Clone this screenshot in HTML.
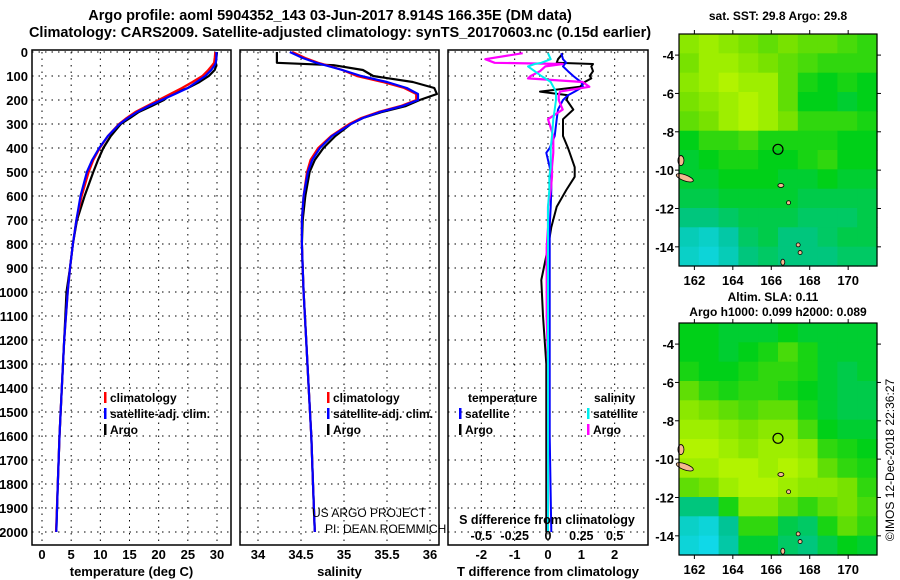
<!DOCTYPE html>
<html><head><meta charset="utf-8"><style>
html,body{margin:0;padding:0;background:#fff;}
svg{display:block;font-family:"Liberation Sans",sans-serif;}
text{font-weight:bold;font-size:13px;fill:#000;}
</style></head><body>
<svg id="fig" width="900" height="580" viewBox="0 0 900 580" xmlns="http://www.w3.org/2000/svg">
<text x="330" y="20" text-anchor="middle" style="font-size:14.5px">Argo profile: aoml 5904352_143 03-Jun-2017 8.914S 166.35E (DM data)</text>
<text x="340" y="37" text-anchor="middle" style="font-size:14.5px">Climatology: CARS2009. Satellite-adjusted climatology: synTS_20170603.nc (0.15d earlier)</text>
<text transform="translate(894,460) rotate(-90)" text-anchor="middle" style="font-weight:normal;font-size:12px">©IMOS 12-Dec-2018 22:36:27</text>
</svg>
<script>
// ---------- DATA ----------
const depthLevels=[0,25,45,55,75,100,125,150,175,200,225,250,275,300,350,400,450,500,600,700,800,900,1000,1200,1400,1600,1800,2000];
const tempClim=[29.7,29.6,29.5,29.2,28.5,27.5,25.8,24,22,20,18,16,14.5,13.2,11.3,9.9,8.8,8.0,6.8,5.9,5.3,4.8,4.4,3.8,3.4,3.0,2.7,2.4];
const tempSat=[29.9,29.9,29.8,29.6,29.0,28.0,26.5,25,22.8,20.5,18.3,16.3,14.7,13.3,11.3,9.8,8.6,7.7,6.6,5.9,5.3,4.8,4.4,3.8,3.4,3.0,2.7,2.45];
const tempArgo=[30.0,29.9,29.8,29.9,29.6,28.6,27,25,22.2,20.9,18.8,16.6,15.1,13.5,11.8,10.5,9.6,8.8,7.3,6.0,5.3,4.8,4.2,3.8,3.4,3.0,2.7,2.45];
const salClim=[34.4,34.55,34.7,34.8,34.98,35.15,35.45,35.7,35.84,35.84,35.66,35.4,35.2,35.06,34.85,34.7,34.61,34.57,34.53,34.51,34.51,34.52,34.53,34.56,34.59,34.62,34.64,34.66];
const salSat=[34.37,34.52,34.68,34.78,34.98,35.2,35.5,35.73,35.86,35.86,35.68,35.42,35.22,35.08,34.86,34.72,34.63,34.58,34.53,34.51,34.51,34.52,34.53,34.56,34.59,34.62,34.64,34.66];
const salArgo=[34.22,34.22,34.22,34.88,35.22,35.34,35.8,36.05,36.08,35.88,35.72,35.44,35.22,35.08,34.9,34.76,34.66,34.6,34.55,34.52,34.51,34.52,34.53,34.56,34.59,34.62,34.64,34.66];
const diffDepths=[5,30,45,50,60,80,100,110,125,145,165,180,200,240,280,350,400,420,480,520,575,645,730,815,950,1100,1300,1600,2000];
const tDiffSat=[0.4,0.45,0.55,0.5,0.45,0.6,0.76,0.85,1.0,1.05,0.8,0.6,0.45,0.3,0.26,0.2,0.05,-0.05,0.05,0.1,0.1,0.08,0.05,0.05,0.05,0.05,0.05,0.05,0.1];
const tDiffArgo=[0.45,0.3,0.26,1.35,1.3,1.35,1.25,1.3,1.1,0.96,-0.24,0.6,0.56,0.76,0.45,0.45,0.6,0.65,0.8,0.8,0.55,0.26,0.1,0.0,-0.2,-0.15,-0.05,-0.05,-0.05];
const sDiffArgo=[-0.19,-0.47,-0.4,0.11,-0.02,-0.06,-0.13,-0.15,0.26,0.31,0.09,0.08,0.08,0.11,0.0,0.04,0.04,0.04,0.03,0.03,0.02,0.0,0.0,-0.01,-0.01,-0.01,0.0,0.0,0.0];
const sDiffSat=[0.0,0.02,-0.05,-0.1,-0.15,-0.1,-0.05,-0.02,0.02,0.04,0.06,0.06,0.06,0.05,0.04,0.03,0.02,0.02,0.02,0.01,0.01,0.0,0.0,0.0,0.0,0.0,0.0,0.0,0.0];
const depthTicks=[0,100,200,300,400,500,600,700,800,900,1000,1100,1200,1300,1400,1500,1600,1700,1800,1900,2000];
const tempTicks=[0,5,10,15,20,25,30];
const salTicks=[34,34.5,35,35.5,36];
const tdTicks=[-2,-1,0,1,2];
const sdTicks=[-0.5,-0.25,0,0.25,0.5];
const lonTicks=[162,164,166,168,170];
const latTicks=[-4,-6,-8,-10,-12,-14];
const sstGrid=[
[0.8,0.85,0.8,0.75,0.7,0.75,0.7,0.7,0.65,0.6],
[0.75,0.85,0.85,0.8,0.75,0.7,0.65,0.6,0.6,0.6],
[0.8,0.85,0.9,0.85,0.85,0.7,0.55,0.5,0.55,0.5],
[0.75,0.8,0.85,0.9,0.85,0.7,0.5,0.5,0.45,0.5],
[0.7,0.75,0.85,0.9,0.85,0.75,0.6,0.6,0.6,0.55],
[0.5,0.6,0.6,0.65,0.55,0.55,0.55,0.55,0.5,0.5],
[0.45,0.5,0.55,0.55,0.5,0.5,0.55,0.6,0.5,0.5],
[0.45,0.45,0.5,0.5,0.5,0.45,0.45,0.5,0.45,0.45],
[0.4,0.4,0.45,0.45,0.45,0.45,0.4,0.4,0.4,0.4],
[0.3,0.3,0.35,0.4,0.4,0.4,0.35,0.35,0.35,0.4],
[0.15,0.1,0.2,0.35,0.4,0.3,0.3,0.35,0.4,0.4],
[0.1,0.05,0.15,0.3,0.35,0.3,0.3,0.3,0.35,0.35]];
const slaGrid=[
[0.5,0.5,0.45,0.45,0.45,0.5,0.45,0.45,0.45,0.45],
[0.5,0.5,0.45,0.5,0.55,0.65,0.55,0.45,0.45,0.45],
[0.55,0.5,0.5,0.55,0.6,0.6,0.55,0.45,0.4,0.45],
[0.7,0.6,0.55,0.6,0.6,0.55,0.5,0.45,0.4,0.4],
[0.8,0.75,0.7,0.65,0.7,0.7,0.55,0.45,0.4,0.4],
[0.85,0.85,0.8,0.75,0.8,0.8,0.65,0.5,0.45,0.45],
[0.9,0.9,0.85,0.8,0.85,0.85,0.8,0.6,0.55,0.5],
[0.85,0.85,0.9,0.9,0.85,0.9,0.85,0.7,0.6,0.55],
[0.7,0.75,0.85,0.9,0.9,0.85,0.8,0.8,0.75,0.6],
[0.3,0.3,0.55,0.8,0.8,0.7,0.6,0.7,0.75,0.65],
[0.1,0.05,0.25,0.6,0.6,0.4,0.35,0.55,0.7,0.6],
[0.05,0.0,0.2,0.45,0.45,0.35,0.3,0.4,0.5,0.45]];
const floatLon=166.35, floatLat=-8.914;

// ---------- HELPERS ----------
const NS="http://www.w3.org/2000/svg";
const svg=document.getElementById('fig');
function mk(tag,attrs,parent){const e=document.createElementNS(NS,tag);for(const k in attrs)e.setAttribute(k,attrs[k]);(parent||svg).appendChild(e);return e;}
function txt(s,x,y,anchor,extra){const t=mk('text',Object.assign({x:x,y:y,'text-anchor':anchor||'start'},extra||{}));t.textContent=s;return t;}
const yTop=52, yPer=0.24, yBot=545;
const yD=d=>yTop+d*yPer;
function lin(d0,d1,r0,r1){return v=>r0+(v-d0)/(d1-d0)*(r1-r0);}

function panel(name,x0,x1,xs,xticks,xfmt,xlabel,showY){
  const g=mk('g',{});
  
  
  depthTicks.forEach(d=>{const l=mk('line',{x1:x0,x2:x1,y1:yD(d),y2:yD(d),stroke:'#000','stroke-width':1,'stroke-dasharray':'1.5,5'},g);
    
    if(showY){const t=txt(String(d),28,yD(d)+5,'end');}});
  xticks.forEach(v=>{const l=mk('line',{x1:xs(v),x2:xs(v),y1:yTop,y2:yBot,stroke:'#000','stroke-width':1,'stroke-dasharray':'1.5,5'},g);
    
    if(xfmt){const t=txt(xfmt(v),xs(v),559,'middle');}});
  const r=mk('rect',{x:x0,y:yTop-2,width:x1-x0,height:yBot-yTop+2,fill:'none',stroke:'#000','stroke-width':1.5},g);
  
  const xl=txt(xlabel,(x0+x1)/2,576,'middle');
  return g;
}
function line(g,name,depths,vals,xs,color,w){
  const pts=vals.map((v,i)=>xs(v).toFixed(1)+','+yD(depths[i]).toFixed(1)).join(' ');
  const p=mk('polyline',{points:pts,fill:'none',stroke:color,'stroke-width':w||2.2,'stroke-linejoin':'round'},g);
  
}
function legend(g,x,y,color,label,name){
  const b=mk('rect',{x:x,y:y-10,width:2.5,height:11,fill:color},g);
  
  const t=txt(label,x+6,y,'start',{style:'font-size:12px'});
  
}

// ---------- TEMPERATURE PANEL ----------
const xT=lin(0,30,42,217);
const gT=panel('temperature-panel',32,231,xT,tempTicks,v=>String(v),'temperature (deg C)',true);
line(gT,'temp-argo-line',depthLevels,tempArgo,xT,'#000');
line(gT,'temp-climatology-line',depthLevels,tempClim,xT,'#f00');
line(gT,'temp-satellite-line',depthLevels,tempSat,xT,'#00f');
legend(gT,104,402,'#f00','climatology','legend-climatology');
legend(gT,104,418,'#00f','satellite-adj. clim.','legend-satellite');
legend(gT,104,434,'#000','Argo','legend-argo');

// ---------- SALINITY PANEL ----------
const xS=lin(34,36,258,430);
const gS=panel('salinity-panel',240,439,xS,salTicks,v=>String(v),'salinity',false);
line(gS,'sal-argo-line',depthLevels,salArgo,xS,'#000');
line(gS,'sal-climatology-line',depthLevels,salClim,xS,'#f00');
line(gS,'sal-satellite-line',depthLevels,salSat,xS,'#00f');
legend(gS,327,402,'#f00','climatology','legend-sal-climatology');
legend(gS,327,418,'#00f','satellite-adj. clim.','legend-sal-satellite');
legend(gS,327,434,'#000','Argo','legend-sal-argo');
let t1=txt('US ARGO PROJECT',312,517,'start',{style:'font-weight:normal;font-size:12px'});

let t2=txt('PI: DEAN ROEMMICH',325,533,'start',{style:'font-weight:normal;font-size:12px'});


// ---------- DIFFERENCE PANEL ----------
const xTD=lin(-3,3,448,648);
const xSD=lin(-0.75,0.75,448,648);
const gD=panel('difference-panel',448,648,xTD,tdTicks,v=>String(v),'T difference from climatology',false);
sdTicks.forEach(v=>{const t=txt(String(v),xSD(v),540,'middle',{style:'font-size:12.5px'});});
let sdT=txt('S difference from climatology',547,524,'middle',{style:'font-size:12.5px'});

line(gD,'t-diff-argo-line',diffDepths,tDiffArgo,xTD,'#000',2);
line(gD,'t-diff-satellite-line',diffDepths,tDiffSat,xTD,'#00f',2);
line(gD,'s-diff-argo-line',diffDepths,sDiffArgo,xSD,'#f0f',2.2);
line(gD,'s-diff-satellite-line',diffDepths,sDiffSat,xSD,'#0ee',2);
let lt=txt('temperature',468,402,'start',{style:'font-size:12px'});
legend(gD,459,418,'#00f','satellite','legend-t-satellite');
legend(gD,459,434,'#000','Argo','legend-t-argo');
let ls=txt('salinity',594,402,'start',{style:'font-size:12px'});
legend(gD,587,418,'#0ee','satellite','legend-s-satellite');
legend(gD,587,434,'#f0f','Argo','legend-s-argo');

// ---------- MAPS ----------
function col(v){const stops=[[0,[16,216,232]],[0.25,[0,196,150]],[0.5,[0,208,24]],[0.75,[120,226,0]],[1,[216,255,0]]];
  for(let i=1;i<stops.length;i++){if(v<=stops[i][0]){const a=stops[i-1],b=stops[i],f=(v-a[0])/(b[0]-a[0]);return 'rgb('+a[1].map((c,k)=>Math.round(c+(b[1][k]-c)*f)).join(',')+')';}}return 'rgb(216,255,0)';}
function map(name,top,grid,titles){
  const x0=679,x1=877,y0=top,y1=top+232;
  const lonS=lin(161.2,171.5,x0,x1), latS=lin(-2.9,-15,y0,y1);
  const g=mk('g',{});
  const rows=grid.length,cols=grid[0].length,dLon=10.3/cols,dLat=12.1/rows;
  grid.forEach((row,r)=>row.forEach((v,c)=>{
    const xa=lonS(161.2+c*dLon),xb=lonS(161.2+(c+1)*dLon),ya=latS(-2.9-r*dLat),yb=latS(-2.9-(r+1)*dLat);
    const e=mk('rect',{x:xa.toFixed(1),y:ya.toFixed(1),width:(xb-xa+0.6).toFixed(1),height:(yb-ya+0.6).toFixed(1),fill:col(v)},g);
    }));
  [[161.5,-10.4,9,3,20],[161.3,-9.5,3,5,0],[166.5,-10.8,3,2,0],[166.9,-11.7,2,2,0],[167.4,-13.9,2,2,0],[167.5,-14.3,2,2,0],[166.6,-14.8,2,3,0]].forEach(a=>{
    const e=mk('ellipse',{cx:lonS(a[0]),cy:latS(a[1]),rx:a[2],ry:a[3],fill:'#f4b890',stroke:'#000','stroke-width':0.8,transform:'rotate('+a[4]+' '+lonS(a[0])+' '+latS(a[1])+')'},g);
    });
  const c=mk('circle',{cx:lonS(floatLon),cy:latS(floatLat),r:5,fill:'none',stroke:'#000','stroke-width':1.2},g);
  
  const fr=mk('rect',{x:x0,y:y0,width:x1-x0,height:y1-y0,fill:'none',stroke:'#000','stroke-width':1.2},g);
  
  lonTicks.forEach(v=>{mk('line',{x1:lonS(v),x2:lonS(v),y1:y0-4,y2:y0,stroke:'#000'},g);mk('line',{x1:lonS(v),x2:lonS(v),y1:y1,y2:y1+4,stroke:'#000'},g);
    const t=txt(String(v),lonS(v),y1+19,'middle');});
  latTicks.forEach(v=>{mk('line',{x1:x0-4,x2:x0,y1:latS(v),y2:latS(v),stroke:'#000'},g);mk('line',{x1:x1,x2:x1+4,y1:latS(v),y2:latS(v),stroke:'#000'},g);
    const t=txt(String(v),674,latS(v)+5,'end');});
  titles.forEach((s,i)=>{const yy=titles.length>1?(i==0?top-22:top-7):top-14;const t=txt(s,titles.length>1&&i==0?773:778,yy,'middle',{style:'font-size:12px'});});
}
map('sst-map',34,sstGrid,['sat. SST: 29.8 Argo: 29.8']);
map('sla-map',323,slaGrid,['Altim. SLA: 0.11','Argo h1000: 0.099 h2000: 0.089']);
</script>
</body></html>
